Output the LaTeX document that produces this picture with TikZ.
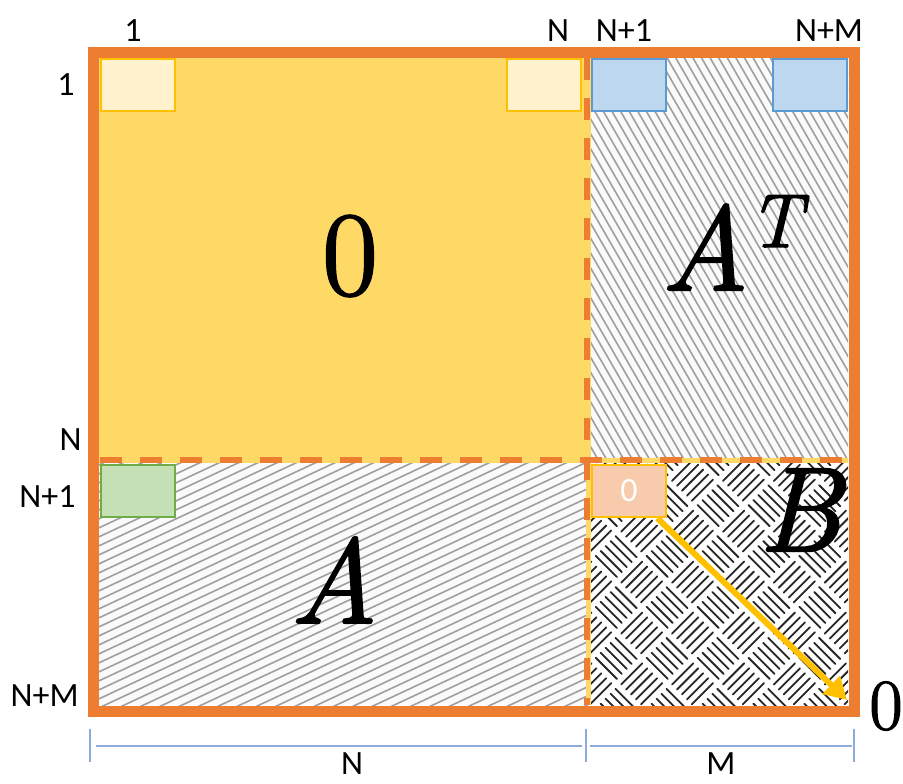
\documentclass[tikz,border=0pt]{standalone}
\usepackage{fontspec}
\newfontfamily\lblfont{Carlito}
\newfontfamily\bigfont{Latin Modern Roman}[FakeBold=2]
\usetikzlibrary{positioning,arrows.meta,calc}

\definecolor{edgeorange}{HTML}{ED7D31}
\definecolor{zerofill}{HTML}{FFD966}
\definecolor{gold}{HTML}{FFC000}
\definecolor{cream}{HTML}{FFF2CC}
\definecolor{bluecell}{HTML}{BDD7EE}
\definecolor{blueedge}{HTML}{5B9BD5}
\definecolor{greencell}{HTML}{C5E0B4}
\definecolor{greenedge}{HTML}{70AD47}
\definecolor{peach}{HTML}{F8CBAD}
\definecolor{dimline}{HTML}{8FAADC}

\begin{document}
\begin{tikzpicture}[
    x=0.5pt,
    y=-0.5pt,
    cell/.style={
        rectangle,
        draw,
        line width=1.2pt,
        minimum width=37pt,
        minimum height=26pt,
        inner sep=0pt
    },
    creamcell/.style={cell, fill=cream, draw=gold},
    bluecellbox/.style={cell, fill=bluecell, draw=blueedge},
    greencellbox/.style={cell, fill=greencell, draw=greenedge},
    zerocellbox/.style={cell, fill=peach, draw=gold, text=white,
        font=\lblfont\fontsize{17}{20}\selectfont},
    hatch/.style={gray!75, line width=0.8pt},
    weave/.style={black!85, line width=0.9pt, line cap=round},
    flow/.style={
        -{Triangle[length=11pt,width=12pt]},
        gold,
        line width=3pt
    },
    idx/.style={font=\lblfont\fontsize{17}{20}\selectfont, inner sep=0pt},
    big/.style={font=\bigfont\fontsize{60}{70}\selectfont, inner sep=0pt},
    dim/.style={dimline, line width=0.75pt}
]
\useasboundingbox (0,0) rectangle (903,783);

% Blocks
\fill[zerofill] (99,58) rectangle (590,462);
\fill[gray!4] (588,58) rectangle (848,460);
\fill[gray!4] (99,460) rectangle (588,705);
\fill[white] (588,460) rectangle (848,705);

% Hatching of A^T
\begin{scope}
    \clip (588,58) rectangle (848,460);
    \foreach \i in {0,...,62}
        \draw[hatch] ({330+\i*8.6},40) -- ({580+\i*8.6},473);
\end{scope}

% Hatching of A
\begin{scope}
    \clip (99,460) rectangle (588,705);
    \foreach \i in {0,...,54}
        \draw[hatch] (90,{460+\i*9}) -- (600,{222+\i*9});
\end{scope}

% Weave of B
\begin{scope}
    \clip (588,460) rectangle (848,705);
    \begin{scope}[shift={(718,582)}, rotate=45]
        \foreach \i in {-5,...,5} {
            \foreach \j in {-5,...,5} {
                \pgfmathtruncatemacro{\odd}{mod(\i+\j+20,2)}
                \ifnum\odd=0
                    \foreach \k in {0,...,4}
                        \draw[weave] ({\i*36+3},{\j*36+4+\k*7}) -- ({\i*36+33},{\j*36+4+\k*7});
                \else
                    \foreach \k in {0,...,4}
                        \draw[weave] ({\i*36+4+\k*7},{\j*36+3}) -- ({\i*36+4+\k*7},{\j*36+33});
                \fi
            }
        }
    \end{scope}
\end{scope}

% Dividers
\draw[zerofill, line width=2.5pt] (99,460) -- (848,460);
\draw[zerofill, line width=2.5pt] (588,58) -- (588,705);
\draw[edgeorange, line width=2.6pt, dash pattern=on 11pt off 9pt] (100,460) -- (848,460);
\draw[edgeorange, line width=2.6pt, dash pattern=on 11pt off 9pt] (587,58) -- (587,705);

% Cells
\node[creamcell] (c11) at (138,85) {};
\node[creamcell] (c1n) at (544,85) {};
\node[bluecellbox] (c1n1) at (629,85) {};
\node[bluecellbox] (c1nm) at (810,85) {};
\node[greencellbox] (cn11) at (138,491) {};
\node[zerocellbox] (zerocell) at (629,491) {0};

% Frame
\draw[edgeorange, line width=5.5pt] (93.5,52.5) rectangle (854,711);

% Arrow
\coordinate (corner) at (847,700);
\draw[flow] (zerocell) -- (corner);

% Block names
\node[big] (zero) at (350,256) {0};
\node[big, anchor=base west] (atrans) at (661,290)
    {\itshape A\raisebox{21.5pt}{\fontsize{38}{44}\selectfont T}};
\node[big] (ablock) at (334,580) {\itshape A};
\node[big] (bblock) at (800,510) {\itshape B};
\node[font=\bigfont\fontsize{36}{40}\selectfont, inner sep=0pt] (cornerzero) at (886,706) {0};

% Indices
\node[idx] (col1) at (133,31) {1};
\node[idx] (coln) at (558,31) {N};
\node[idx] (coln1) at (624,31) {N+1};
\node[idx] (colnm) at (829,31) {N+M};
\node[idx, anchor=east] (row1) at (75,85) {1};
\node[idx, anchor=east] (rown) at (82,440) {N};
\node[idx, anchor=east] (rown1) at (76,497) {N+1};
\node[idx, anchor=east] (rownm) at (79,696) {N+M};

% Sizes
\coordinate (dl) at (90,746);
\coordinate (dm) at (586,746);
\coordinate (dr) at (854,746);
\draw[dim] ($(dl)+(0,-17)$) -- ($(dl)+(0,16)$);
\draw[dim] ($(dm)+(0,-17)$) -- ($(dm)+(0,16)$);
\draw[dim] ($(dr)+(0,-17)$) -- ($(dr)+(0,16)$);
\draw[dim] ($(dl)+(6,0)$) -- ($(dm)+(-4,0)$);
\draw[dim] ($(dm)+(4,0)$) -- ($(dr)+(-2,0)$);
\node[idx] (nsize) at (352,764) {N};
\node[idx] (msize) at (721,764) {M};

\end{tikzpicture}
\end{document}
